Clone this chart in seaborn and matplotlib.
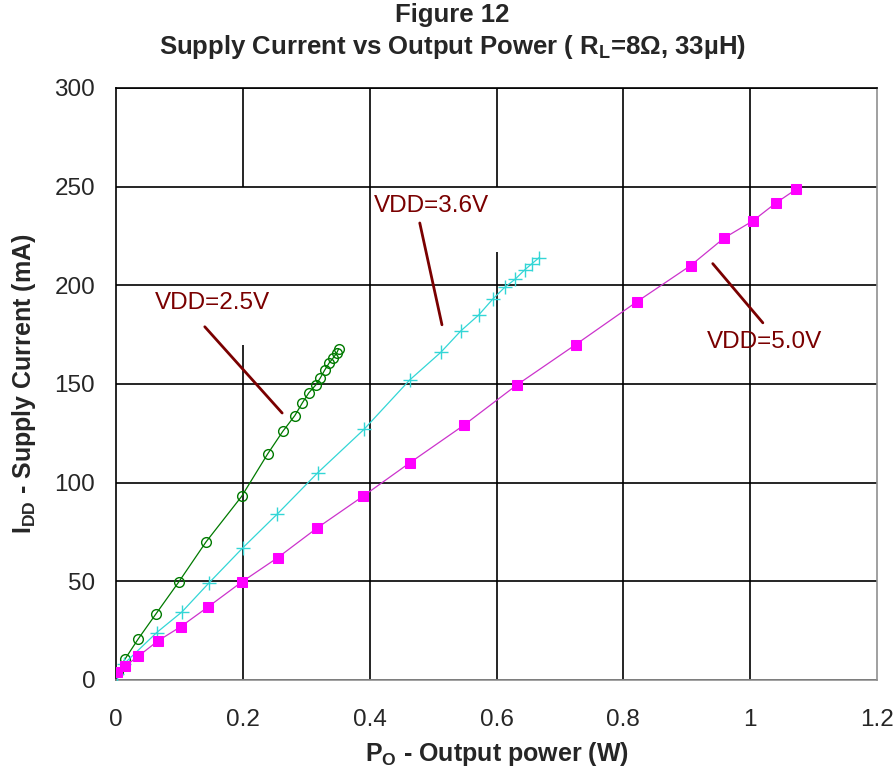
import matplotlib
matplotlib.use('Agg')
import matplotlib.pyplot as plt
import seaborn as sns
import numpy as np

# VDD = 2.5V (green circles)
po_25 = [0.003, 0.014, 0.035, 0.063, 0.099, 0.142, 0.198, 0.239, 0.263, 0.282,
         0.294, 0.304, 0.315, 0.322, 0.329, 0.336, 0.342, 0.348, 0.351]
idd_25 = [4, 10.5, 20.8, 33.5, 49.7, 70, 93, 114.5, 126, 134,
          140.5, 145.5, 149.5, 153, 157, 160.6, 163, 165.7, 167.8]

# VDD = 3.6V (cyan crosses)
po_36 = [0.002, 0.012, 0.064, 0.104, 0.146, 0.200, 0.254, 0.318, 0.391, 0.463,
         0.512, 0.544, 0.572, 0.594, 0.613, 0.629, 0.645, 0.656, 0.667]
idd_36 = [3, 8, 24, 34.5, 49, 67, 84, 105, 127, 152,
          166, 177, 185, 193, 199, 203, 208, 211, 214]

# VDD = 5.0V (magenta squares)
po_50 = [0.001, 0.014, 0.035, 0.066, 0.102, 0.145, 0.198, 0.255, 0.317, 0.389,
         0.463, 0.548, 0.632, 0.725, 0.821, 0.906, 0.959, 1.004, 1.040, 1.073]
idd_50 = [4, 7, 12, 19.8, 27, 37, 49.6, 62, 77, 93,
          110, 129, 149.5, 170, 191.6, 210, 224, 232.6, 241.6, 248.8]

x_ticks = [0, 0.2, 0.4, 0.6, 0.8, 1.0, 1.2]
x_labels = ['0', '0.2', '0.4', '0.6', '0.8', '1', '1.2']
y_ticks = [0, 50, 100, 150, 200, 250, 300]

sns.set_style('white')
plt.rcParams['font.family'] = ['Liberation Sans', 'DejaVu Sans']
plt.rcParams['mathtext.fontset'] = 'custom'
plt.rcParams['mathtext.rm'] = 'Liberation Sans'
plt.rcParams['mathtext.bf'] = 'Liberation Sans:bold'

fig = plt.figure(figsize=(8.96, 7.79), dpi=100)
ax = fig.add_axes([116/896, 1 - 680/779, (877 - 116)/896, (680 - 88)/779])

# gridlines (the label boxes cut some vertical lines)
for yv in y_ticks:
    ax.axhline(yv, color='black', lw=1.2, zorder=1)
ax.vlines([0.4, 0.8, 1.0], 0, 300, color='black', lw=1.2, zorder=1)
ax.vlines([0.2, 0.2], [0, 250], [170, 300], color='black', lw=1.2, zorder=1)
ax.vlines([0.6, 0.6], [0, 250], [217, 300], color='black', lw=1.2, zorder=1)

sns.lineplot(x=po_25, y=idd_25, ax=ax, color='#007a00', lw=0.9, marker='o',
             markersize=7, markerfacecolor='none', markeredgecolor='#007a00',
             markeredgewidth=1.0, sort=False, estimator=None, zorder=3)
sns.lineplot(x=po_36, y=idd_36, ax=ax, color='#33d6d6', lw=0.9, marker='+',
             markersize=10, markeredgecolor='#33d6d6', markeredgewidth=1.0,
             sort=False, estimator=None, zorder=3)
sns.lineplot(x=po_50, y=idd_50, ax=ax, color='#cc33cc', lw=0.9, marker='s',
             markersize=7.5, markerfacecolor='#ff00ff', markeredgecolor='#ff00ff',
             sort=False, estimator=None, zorder=3)

# annotations
lab_col = '#7a0000'
ax.text(0.0615, 191, 'VDD=2.5V', color=lab_col, fontsize=17.5, va='center', ha='left')
ax.plot([0.140, 0.262], [179, 135.3], color=lab_col, lw=2)
ax.text(0.4066, 240, 'VDD=3.6V', color=lab_col, fontsize=17.5, va='center', ha='left')
ax.plot([0.479, 0.514], [231.6, 180], color=lab_col, lw=2)
ax.text(0.931, 171.3, 'VDD=5.0V', color=lab_col, fontsize=17.5, va='center', ha='left')
ax.plot([0.941, 1.020], [211, 181], color=lab_col, lw=2)

ax.set_xlim(0, 1.2)
ax.set_ylim(0, 300)
ax.set_xticks(x_ticks)
ax.set_xticklabels(x_labels)
ax.set_yticks(y_ticks)
ax.tick_params(axis='x', length=0, pad=21, labelsize=17.5)
ax.tick_params(axis='y', length=0, pad=15, labelsize=17.5)

ax.spines['left'].set_color('black')
ax.spines['top'].set_color('black')
ax.spines['right'].set_color('#909090')
ax.spines['bottom'].set_color('#909090')
for s in ax.spines.values():
    s.set_linewidth(1.2)

ax.set_xlabel(r'P$_{\mathbf{O}}$ - Output power (W)', fontsize=18, fontweight='bold', labelpad=6)
ax.set_ylabel(r'I$_{\mathbf{DD}}$ - Supply Current (mA)', fontsize=18, fontweight='bold', labelpad=12)

fig.text(0.5045, 1 - 15/779, 'Figure 12', ha='center', va='center', fontsize=18.5, fontweight='bold')
fig.text(0.5045, 1 - 47/779, r'Supply Current vs Output Power ( R$_{\mathbf{L}}$=8Ω, 33µH)',
         ha='center', va='center', fontsize=18.5, fontweight='bold')

plt.savefig('out.png', dpi=100)
